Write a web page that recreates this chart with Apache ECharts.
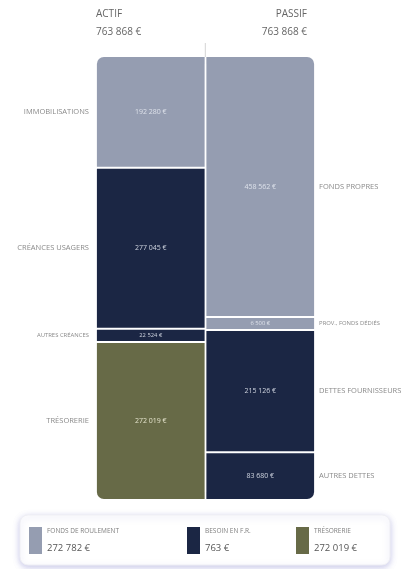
<!DOCTYPE html>
<html>
<head>
<meta charset="utf-8">
<script src="https://cdn.jsdelivr.net/npm/echarts@6/dist/echarts.min.js"></script>
<style>
html,body{margin:0;padding:0;background:#fff;}
#chart{width:403px;height:569px;}
</style>
</head>
<body>
<div id="chart"></div>
<script>
// ---- data ----
const columns = ['ACTIF', 'PASSIF'];
const columnTotals = [763868, 763868];
const actifCategories = ['IMMOBILISATIONS', 'CRÉANCES USAGERS', 'AUTRES CRÉANCES', 'TRÉSORERIE'];
const actifValues = [192280, 277045, 22524, 272019];
const actifGroups = [0, 1, 1, 2];
const passifCategories = ['FONDS PROPRES', 'PROV., FONDS DÉDIÉS', 'DETTES FOURNISSEURS', 'AUTRES DETTES'];
const passifValues = [458562, 6500, 215126, 83680];
const passifGroups = [0, 0, 1, 1];
const legendNames = ['FONDS DE ROULEMENT', 'BESOIN EN F.R.', 'TRÉSORERIE'];
const legendValues = [272782, 763, 272019];

// ---- styles ----
const groupColors = ['#959db1', '#1b2644', '#676a47'];
const valueTextColors = ['#dde1ea', '#cfd4df', '#e4e3cc'];
const FONT = '"Open Sans", sans-serif';
const MIN_SHARE = 0.029;

function fmt(v) {
  return String(v).replace(/\B(?=(\d{3})+(?!\d))/g, ' ') + ' €';
}

// display spans with a minimum visible height per segment
function spans(values) {
  const total = values.reduce((a, b) => a + b, 0);
  const small = values.map(v => v / total < MIN_SHARE);
  const nSmall = small.filter(Boolean).length;
  const remaining = total - nSmall * MIN_SHARE * total;
  const sumLarge = values.reduce((a, v, i) => a + (small[i] ? 0 : v), 0);
  let acc = 0;
  return values.map((v, i) => {
    const d = small[i] ? MIN_SHARE * total : v / sumLarge * remaining;
    const s = [acc, acc + d];
    acc += d;
    return s;
  });
}

const segments = [];
[[actifCategories, actifValues, actifGroups], [passifCategories, passifValues, passifGroups]]
  .forEach(([cats, vals, groups], col) => {
    const sp = spans(vals);
    cats.forEach((c, i) => {
      segments.push({
        col, name: c, value: vals[i], group: groups[i],
        first: i === 0, last: i === cats.length - 1,
        start: sp[i][0], end: sp[i][1]
      });
    });
  });

const chart = echarts.init(document.getElementById('chart'), null, {renderer: 'canvas'});

function renderItem(params, api) {
  const seg = segments[params.dataIndex];
  const col = api.value(0);
  const p0 = api.coord([col, api.value(1)]);
  const p1 = api.coord([col, api.value(2)]);
  const band = api.size([1, 0])[0];
  const w = band - 1.8;
  const x = p0[0] - w / 2;
  const top = Math.min(p0[1], p1[1]) + 1;
  const h = Math.abs(p1[1] - p0[1]) - 2;
  const R = 7;
  let r = [0, 0, 0, 0];
  if (col === 0) { if (seg.first) r[0] = R; if (seg.last) r[3] = R; }
  else { if (seg.first) r[1] = R; if (seg.last) r[2] = R; }
  const small = h < 20;
  const cy = top + h / 2;
  return {
    type: 'group',
    children: [
      {type: 'rect', shape: {x, y: top, width: w, height: h, r},
       style: {fill: groupColors[seg.group]}},
      {type: 'text', x: x + w / 2, y: cy,
       style: {text: fmt(seg.value), fill: valueTextColors[seg.group],
               fontSize: small ? 5.8 : 7, fontFamily: FONT,
               align: 'center', verticalAlign: 'middle'}},
      {type: 'text', x: col === 0 ? x - 8 : x + w + 5, y: cy,
       style: {text: seg.name, fill: '#8a8a8a',
               fontSize: small ? 5.9 : 7.5, fontFamily: FONT,
               align: col === 0 ? 'right' : 'left', verticalAlign: 'middle'}}
    ]
  };
}

// header graphics
const headerGraphics = [
  {type: 'text', x: 96, y: 14, style: {text: columns[0], fill: '#666', fontSize: 10, fontFamily: FONT, align: 'left', verticalAlign: 'middle'}},
  {type: 'text', x: 96, y: 32.5, style: {text: fmt(columnTotals[0]), fill: '#666', fontSize: 10, fontFamily: FONT, align: 'left', verticalAlign: 'middle'}},
  {type: 'text', x: 307, y: 14, style: {text: columns[1], fill: '#666', fontSize: 10, fontFamily: FONT, align: 'right', verticalAlign: 'middle'}},
  {type: 'text', x: 307, y: 32.5, style: {text: fmt(columnTotals[1]), fill: '#666', fontSize: 10, fontFamily: FONT, align: 'right', verticalAlign: 'middle'}},
  {type: 'line', shape: {x1: 205.3, y1: 43, x2: 205.3, y2: 57},
   style: {stroke: '#d4d4d4', lineWidth: 1}}
];

// legend graphics
const legendX = [29, 187, 296];
const legendGraphics = [{
  type: 'rect', shape: {x: 20, y: 515, width: 370, height: 50, r: 8},
  style: {fill: '#fff', stroke: '#efeff4', lineWidth: 1,
          shadowBlur: 6, shadowOffsetY: 2, shadowColor: 'rgba(120,120,200,0.4)'}
}];
legendNames.forEach((n, i) => {
  legendGraphics.push(
    {type: 'rect', shape: {x: legendX[i], y: 527, width: 13, height: 27},
     style: {fill: groupColors[i]}},
    {type: 'text', x: legendX[i] + 18, y: 531,
     style: {text: n, fill: '#808080', fontSize: 6.5, fontFamily: FONT, verticalAlign: 'middle'}},
    {type: 'text', x: legendX[i] + 18, y: 548,
     style: {text: fmt(legendValues[i]), fill: '#555', fontSize: 9.5, fontFamily: FONT, verticalAlign: 'middle'}}
  );
});

chart.setOption({
  animation: false,
  backgroundColor: '#fff',
  grid: {left: 96, width: 219, top: 56, height: 444},
  xAxis: {type: 'category', data: columns, show: false},
  yAxis: {type: 'value', min: 0, max: columnTotals[0], inverse: true, show: false},
  graphic: [...headerGraphics, ...legendGraphics],
  series: [{
    type: 'custom',
    renderItem,
    clip: false,
    encode: {x: 0, y: [1, 2]},
    data: segments.map(s => [s.col, s.start, s.end])
  }]
});
</script>
</body>
</html>
